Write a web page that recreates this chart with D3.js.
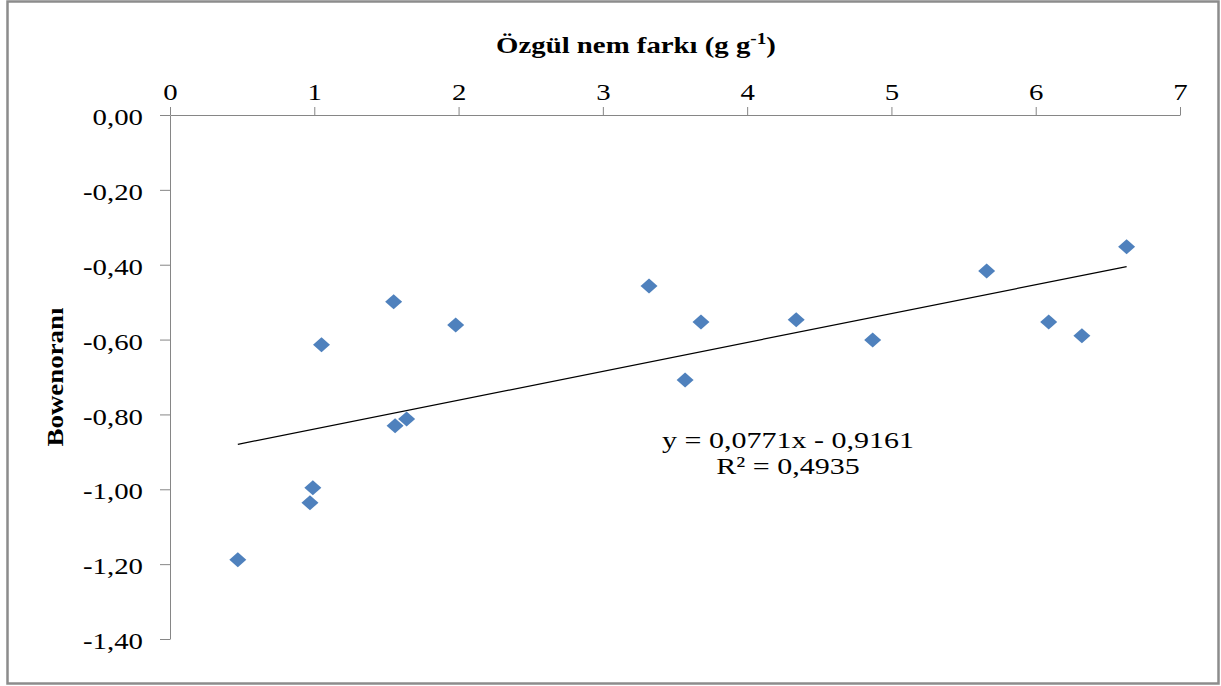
<!DOCTYPE html>
<html>
<head>
<meta charset="utf-8">
<script src="https://cdn.jsdelivr.net/npm/d3@7"></script>
<style>
  body { margin: 0; background: #fff; }
  svg { display: block; font-family: "Liberation Serif", "Times New Roman", serif; }
  .axis path, .axis line { stroke: #868686; }
  .axis text { font-family: "Liberation Serif", "Times New Roman", serif; font-size: 24px; fill: #000; }
</style>
</head>
<body>
<div id="chart"></div>
<script>
// Specific humidity difference (x) vs Bowen ratio (y)
const xValues = [0.47, 0.97, 0.99, 1.05, 1.55, 1.56, 1.64, 1.98, 3.32, 3.57, 3.68, 4.34, 4.87, 5.66, 6.09, 6.32, 6.63];
const yValues = [-1.188, -1.036, -0.996, -0.614, -0.499, -0.830, -0.812, -0.561, -0.457, -0.708, -0.553, -0.547, -0.601, -0.417, -0.553, -0.590, -0.352];
const xTicks = [0, 1, 2, 3, 4, 5, 6, 7];
const yTicks = [0, -0.2, -0.4, -0.6, -0.8, -1.0, -1.2, -1.4];
const slope = 0.0771, intercept = -0.9161, r2 = 0.4935;

const width = 1221, height = 686;
const margin = { top: 115, right: 41, bottom: 47, left: 170 };
const innerW = width - margin.left - margin.right;
const innerH = height - margin.top - margin.bottom;
const stretchK = 1.2; // the reference text is drawn a bit wide

const svg = d3.select('#chart').append('svg')
    .attr('width', width)
    .attr('height', height);

// outer frame
svg.append('rect')
    .attr('x', 7.5).attr('y', 1.5)
    .attr('width', 1211).attr('height', 682)
    .attr('fill', '#fff')
    .attr('stroke', '#8c8c8c')
    .attr('stroke-width', 2.5);

const chart = svg.append('g')
    .attr('transform', `translate(${margin.left},${margin.top})`);

const xScale = d3.scaleLinear().domain([0, 7]).range([0, innerW]);
const yScale = d3.scaleLinear().domain([-1.4, 0]).range([innerH, 0]);

const comma = d => d.toFixed(2).replace('.', ',');

function stretch(sel, k) {
    sel.each(function () {
        const w = this.getComputedTextLength();
        d3.select(this).attr('textLength', w * k).attr('lengthAdjust', 'spacingAndGlyphs');
    });
}

chart.append('g')
    .attr('class', 'axis x-axis')
    .call(d3.axisTop(xScale).tickValues(xTicks).tickFormat(d3.format('d')).tickSize(8).tickSizeOuter(0).tickPadding(7));

chart.append('g')
    .attr('class', 'axis y-axis')
    .call(d3.axisLeft(yScale).tickValues(yTicks).tickFormat(comma).tickSize(10).tickSizeOuter(0).tickPadding(17));

chart.selectAll('.y-axis .tick text').attr('dy', '0.4em');
stretch(chart.selectAll('.axis .tick text'), stretchK);

// axis titles
svg.append('text')
    .attr('transform', `translate(636,53) scale(${stretchK},1)`)
    .attr('text-anchor', 'middle')
    .style('font-weight', 'bold')
    .style('font-size', '24px')
    .html('Özgül nem farkı (g g<tspan dy="-9" font-size="16px">-1</tspan><tspan dy="9">)</tspan>');

svg.append('text')
    .attr('transform', 'translate(63,377) rotate(-90) scale(1.12,1)')
    .attr('text-anchor', 'middle')
    .style('font-weight', 'bold')
    .style('font-size', '24px')
    .text('Bowenoranı');

// trend line
const xMin = d3.min(xValues), xMax = d3.max(xValues);
chart.append('line')
    .attr('x1', xScale(xMin)).attr('y1', yScale(slope * xMin + intercept))
    .attr('x2', xScale(xMax)).attr('y2', yScale(slope * xMax + intercept))
    .attr('stroke', '#000')
    .attr('stroke-width', 1.2);

// diamond markers
const points = xValues.map((x, i) => ({ x, y: yValues[i] }));
chart.selectAll('.pt')
    .data(points)
    .join('path')
    .attr('class', 'pt')
    .attr('d', 'M0,-7.5L8.5,0L0,7.5L-8.5,0Z')
    .attr('transform', d => `translate(${xScale(d.x)},${yScale(d.y)})`)
    .attr('fill', '#4F81BD');

// equation label
const eq = svg.append('text')
    .attr('transform', `translate(788,448) scale(${stretchK + 0.05},1)`)
    .attr('text-anchor', 'middle')
    .style('font-size', '24px');
eq.append('tspan').attr('x', 0).attr('y', 0)
    .text(`y = ${String(slope).replace('.', ',')}x - ${String(-intercept).replace('.', ',')}`);
eq.append('tspan').attr('x', 0).attr('y', 26)
    .text(`R² = ${String(r2).replace('.', ',')}`);
</script>
</body>
</html>
